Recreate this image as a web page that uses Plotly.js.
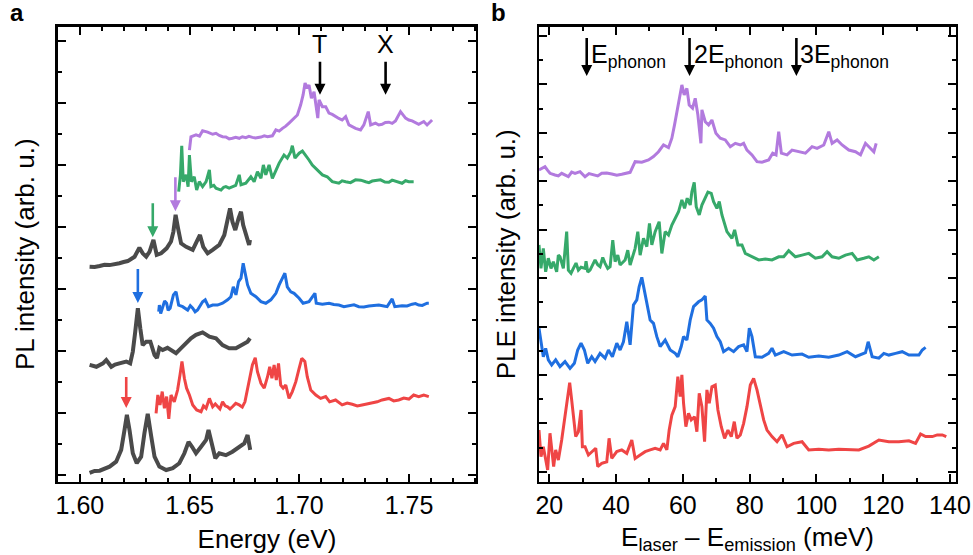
<!DOCTYPE html>
<html>
<head>
<meta charset="utf-8">
<script src="https://cdn.plot.ly/plotly-3.0.1.min.js"></script>
<style>html,body{margin:0;padding:0;background:#fff;}#plot{width:973px;height:555px;}</style>
</head>
<body>
<div id="plot"></div>
<script>
// ---------- Panel a : PL spectra (energy in eV, intensity in arb. u., offset) ----------
const aPurpleE = [1.6499,1.6506,1.6529,1.6545,1.6559,1.6582,1.6605,1.6620,1.6635,1.6650,1.6665,1.6680,1.6695,1.6710,1.6726,1.6740,1.6756,1.6770,1.6786,1.6800,1.6825,1.6840,1.6855,1.6877,1.6893,1.6908,1.6923,1.6938,1.6953,1.6976,1.6991,1.7006,1.7017,1.7026,1.7036,1.7044,1.7055,1.7067,1.7077,1.7084,1.7090,1.7105,1.7120,1.7135,1.7150,1.7165,1.7180,1.7195,1.7211,1.7226,1.7241,1.7256,1.7279,1.7294,1.7314,1.7325,1.7347,1.7362,1.7377,1.7392,1.7408,1.7423,1.7438,1.7461,1.7484,1.7499,1.7514,1.7529,1.7544,1.7567,1.7582,1.7605];
const aPurpleI = [10.47,10.90,10.96,10.92,11.09,11.05,10.98,11.01,10.94,10.90,10.89,10.83,10.85,10.88,10.85,10.90,10.87,10.91,10.88,10.86,10.89,10.93,10.90,10.93,11.12,11.08,11.17,11.24,11.34,11.50,11.60,11.93,12.25,12.63,12.46,12.57,12.14,12.35,11.93,11.50,12.09,11.87,11.87,11.66,11.62,11.55,11.49,11.44,11.55,11.28,11.22,11.17,11.12,11.28,11.71,11.28,11.34,11.28,11.30,11.36,11.37,11.33,11.41,11.71,11.50,11.44,11.41,11.36,11.30,11.39,11.28,11.44];

const aGreenE = [1.6450,1.6458,1.6464,1.6471,1.6484,1.6493,1.6499,1.6508,1.6521,1.6532,1.6544,1.6559,1.6575,1.6590,1.6597,1.6610,1.6620,1.6632,1.6643,1.6655,1.6665,1.6680,1.6695,1.6710,1.6726,1.6734,1.6756,1.6779,1.6794,1.6809,1.6825,1.6836,1.6847,1.6862,1.6877,1.6893,1.6908,1.6930,1.6945,1.6961,1.6968,1.6980,1.6999,1.7014,1.7029,1.7044,1.7059,1.7082,1.7105,1.7127,1.7150,1.7180,1.7195,1.7211,1.7233,1.7256,1.7280,1.7302,1.7317,1.7332,1.7350,1.7370,1.7390,1.7408,1.7423,1.7438,1.7453,1.7468,1.7484,1.7499,1.7521];
const aGreenI = [9.13,9.67,10.61,9.45,9.67,9.29,10.31,9.45,9.61,9.18,9.45,9.29,9.45,9.83,9.29,9.33,9.24,9.22,9.18,9.27,9.29,9.24,9.29,9.33,9.67,9.35,9.40,9.61,9.45,9.77,9.56,9.99,9.67,9.99,9.56,9.83,10.05,10.31,10.21,10.42,10.61,10.21,10.37,10.44,10.31,10.15,9.99,9.83,9.67,9.61,9.45,9.40,9.48,9.45,9.42,9.51,9.50,9.45,9.42,9.47,9.49,9.51,9.44,9.43,9.50,9.47,9.43,9.40,9.48,9.45,9.45];

const aGrayTopE = [1.6044,1.6067,1.6090,1.6112,1.6135,1.6158,1.6180,1.6199,1.6218,1.6249,1.6271,1.6286,1.6302,1.6317,1.6335,1.6350,1.6370,1.6395,1.6415,1.6426,1.6436,1.6447,1.6461,1.6484,1.6514,1.6532,1.6547,1.6562,1.6582,1.6605,1.6635,1.6658,1.6673,1.6684,1.6695,1.6708,1.6723,1.6734,1.6744,1.6759,1.6771,1.6775];
const aGrayTopI = [6.71,6.70,6.73,6.77,6.76,6.78,6.82,6.86,6.89,7.03,7.32,7.14,7.03,7.19,7.57,7.09,7.14,7.30,7.52,7.84,8.38,7.95,7.46,7.35,7.25,7.52,7.73,7.35,7.14,7.25,7.41,7.73,8.22,8.59,8.16,7.89,8.27,8.48,8.05,7.73,7.41,7.57];

const aBlueE = [1.6359,1.6362,1.6368,1.6377,1.6386,1.6395,1.6402,1.6411,1.6420,1.6426,1.6438,1.6450,1.6468,1.6491,1.6503,1.6514,1.6525,1.6536,1.6559,1.6571,1.6586,1.6605,1.6627,1.6650,1.6673,1.6688,1.6699,1.6711,1.6723,1.6734,1.6744,1.6753,1.6764,1.6779,1.6802,1.6825,1.6847,1.6870,1.6893,1.6908,1.6923,1.6934,1.6945,1.6961,1.6976,1.6999,1.7017,1.7044,1.7071,1.7077,1.7105,1.7135,1.7157,1.7180,1.7203,1.7226,1.7249,1.7271,1.7294,1.7317,1.7340,1.7362,1.7385,1.7400,1.7423,1.7435,1.7468,1.7491,1.7514,1.7529,1.7544,1.7560,1.7582,1.7590];
const aBlueI = [5.26,5.47,5.20,5.37,5.60,5.53,5.30,5.37,5.62,5.80,5.90,5.47,5.42,5.31,5.45,5.37,5.25,5.31,5.58,5.64,5.42,5.47,5.47,5.53,5.64,5.74,6.06,5.80,6.23,6.34,6.82,6.55,6.12,5.85,5.74,5.58,5.53,5.64,5.85,6.12,6.34,6.50,6.06,5.90,5.85,5.69,5.53,5.58,5.85,5.53,5.50,5.53,5.49,5.47,5.42,5.45,5.48,5.42,5.41,5.44,5.46,5.47,5.44,5.42,5.67,5.42,5.45,5.44,5.50,5.52,5.47,5.46,5.53,5.53];

const aGrayMidE = [1.6044,1.6075,1.6105,1.6120,1.6143,1.6160,1.6180,1.6195,1.6211,1.6229,1.6241,1.6252,1.6264,1.6275,1.6286,1.6302,1.6321,1.6340,1.6351,1.6362,1.6377,1.6399,1.6417,1.6438,1.6461,1.6484,1.6506,1.6529,1.6559,1.6590,1.6620,1.6650,1.6680,1.6711,1.6741,1.6764,1.6775];
const aGrayMidI = [3.54,3.48,3.59,3.70,3.48,3.55,3.59,3.63,3.65,3.59,3.97,4.61,5.37,4.72,4.18,4.29,4.29,3.86,3.76,4.09,4.02,4.09,4.02,3.92,4.08,4.24,4.40,4.51,4.59,4.45,4.40,4.18,4.08,4.08,4.18,4.29,4.40];

const aRedE = [1.6347,1.6355,1.6365,1.6375,1.6385,1.6395,1.6405,1.6415,1.6430,1.6445,1.6456,1.6465,1.6476,1.6486,1.6499,1.6514,1.6532,1.6552,1.6563,1.6575,1.6590,1.6605,1.6617,1.6627,1.6638,1.6650,1.6662,1.6673,1.6684,1.6695,1.6710,1.6726,1.6740,1.6752,1.6764,1.6775,1.6786,1.6799,1.6809,1.6825,1.6840,1.6855,1.6865,1.6875,1.6885,1.6895,1.6905,1.6915,1.6926,1.6938,1.6953,1.6968,1.6984,1.6999,1.7011,1.7025,1.7036,1.7052,1.7075,1.7097,1.7120,1.7138,1.7165,1.7195,1.7218,1.7241,1.7264,1.7286,1.7310,1.7332,1.7355,1.7377,1.7408,1.7430,1.7453,1.7476,1.7499,1.7521,1.7544,1.7567,1.7590];
const aRedI = [1.98,2.57,2.25,2.68,2.14,2.52,1.80,2.57,2.35,2.73,3.22,3.65,3.11,2.79,2.57,2.25,2.09,2.03,2.22,2.14,2.46,2.19,2.28,2.19,2.12,2.35,2.22,2.19,2.12,2.19,2.30,2.25,2.18,2.35,2.79,3.11,3.54,3.77,3.32,2.95,2.79,3.16,3.48,3.11,3.54,3.05,3.59,2.89,2.79,2.89,2.46,2.68,3.00,3.43,3.75,3.65,3.16,2.73,2.57,2.46,2.52,2.35,2.41,2.25,2.31,2.27,2.22,2.25,2.28,2.30,2.35,2.41,2.46,2.38,2.41,2.47,2.44,2.57,2.52,2.57,2.52];

const aGrayBotE = [1.6044,1.6067,1.6090,1.6112,1.6135,1.6165,1.6188,1.6203,1.6214,1.6226,1.6241,1.6259,1.6279,1.6294,1.6309,1.6325,1.6340,1.6362,1.6393,1.6423,1.6453,1.6476,1.6495,1.6511,1.6529,1.6552,1.6575,1.6586,1.6602,1.6617,1.6635,1.6665,1.6695,1.6726,1.6749,1.6764,1.6776];
const aGrayBotI = [0.06,0.12,0.13,0.18,0.26,0.42,0.80,1.44,1.93,1.44,0.69,0.37,0.58,1.34,1.96,1.23,0.58,0.26,0.15,0.21,0.37,0.69,1.06,0.90,0.69,0.90,1.12,1.44,1.01,0.53,0.69,0.63,0.74,0.90,1.01,1.28,0.80];

// Axis ticks of panel a
const aTickVals = [1.60, 1.65, 1.70, 1.75];
const aTickText = ['1.60', '1.65', '1.70', '1.75'];

// Marked features in panel a
const aMarkE = [1.6211, 1.6264, 1.6332, 1.6435];          // red, blue, green, purple arrows
const aMarkI = [2.15, 5.54, 7.66, 8.50];
const aLabelE = [1.7094, 1.7393];                          // T, X
const aLabelText = ['T', 'X'];
const aLabelTipI = [12.25, 12.25];

// ---------- Panel b : PLE spectra (E_laser - E_emission in meV) ----------
const bPurpleX = [16.9,18.7,19.5,20.2,21.7,22.7,23.7,25.7,26.7,27.7,29.2,30.7,31.9,33.2,34.5,35.7,37.2,38.7,40.2,41.7,43.0,44.2,45.7,47.7,49.7,51.2,52.7,54.2,55.7,56.7,57.5,58.5,59.7,60.4,61.2,61.9,62.9,63.7,64.5,65.4,65.7,66.7,67.7,68.7,69.9,71.2,72.7,74.2,75.7,77.2,78.2,79.2,80.7,82.2,83.7,85.7,86.9,87.9,88.7,89.5,91.2,92.7,94.7,96.7,98.7,100.2,102.2,103.7,104.7,106.2,107.7,109.7,111.7,113.2,114.7,116.2,117.2,117.9];
const bPurpleI = [12.47,12.60,12.45,12.33,12.26,12.22,12.33,12.19,12.38,12.33,12.40,12.19,12.32,12.26,12.22,12.33,12.34,12.30,12.25,12.29,12.33,12.37,12.81,12.79,12.88,13.02,13.22,13.50,13.39,13.78,14.33,15.02,15.98,15.57,15.84,15.15,15.02,15.43,14.74,13.57,14.95,14.46,14.33,14.53,13.98,13.78,13.71,13.43,13.57,13.50,13.57,13.29,13.09,12.81,12.79,12.88,13.16,13.09,14.05,13.16,13.09,13.29,13.22,13.16,13.43,13.36,13.50,14.05,13.57,13.71,13.50,13.29,13.22,13.09,13.57,13.36,13.22,13.57];

const bGreenX = [16.9,17.5,18.2,18.9,19.7,20.5,21.2,22.2,22.7,23.2,24.2,25.2,25.7,26.5,27.2,28.0,28.7,29.5,30.7,31.0,31.5,32.2,33.7,34.5,35.2,36.0,36.7,37.5,38.2,39.0,39.7,40.5,41.2,42.7,43.5,44.2,45.7,46.5,47.2,48.2,49.2,50.0,50.7,51.7,52.9,53.7,54.7,55.7,56.7,57.7,58.7,59.7,60.5,61.3,62.2,62.7,63.4,64.0,64.9,65.7,66.7,67.5,68.5,69.2,70.2,70.9,71.7,73.2,74.7,75.5,76.5,77.7,78.7,80.7,82.7,84.7,86.7,88.7,90.2,91.7,93.7,95.7,97.7,99.7,101.7,103.2,104.7,106.7,108.7,110.7,112.2,114.2,115.7,117.2,118.7];
const bGreenI = [9.37,8.40,9.23,8.26,8.82,8.40,8.68,8.26,8.95,8.88,8.40,9.92,8.33,8.20,8.40,8.62,8.33,8.45,8.40,8.70,8.25,8.33,8.75,8.55,8.47,8.85,8.61,8.40,8.47,9.57,8.68,8.95,8.54,8.75,9.15,8.54,9.23,9.92,8.95,9.64,9.30,10.26,9.37,9.92,10.33,9.02,9.92,9.78,10.19,10.47,10.74,11.23,10.88,11.30,11.02,11.57,11.96,10.95,10.61,11.02,11.30,11.55,11.50,11.16,10.88,11.16,10.61,9.92,9.64,9.99,9.37,9.37,9.02,8.88,8.75,8.79,8.75,8.88,8.88,9.13,8.88,8.95,9.02,8.82,8.88,9.09,8.88,8.82,8.95,9.02,8.75,8.82,8.88,8.75,8.88];

const bBlueX = [16.9,17.5,18.2,18.9,19.7,20.7,21.9,23.2,24.7,26.2,27.5,28.5,29.5,30.5,31.5,32.7,33.7,35.2,36.7,37.7,38.9,40.2,41.2,42.2,43.2,44.2,45.2,46.2,46.9,47.7,48.5,49.2,50.2,51.2,52.2,53.2,54.7,56.2,57.7,58.5,59.5,60.2,61.2,62.2,63.2,64.7,65.7,66.7,67.2,68.2,69.2,70.2,71.2,72.2,73.7,75.2,76.7,78.2,79.2,79.9,80.7,81.7,83.7,85.7,86.7,87.7,90.2,92.7,95.7,97.7,100.7,103.7,106.7,109.2,111.7,114.7,115.5,116.7,118.7,120.2,121.7,123.7,125.7,127.7,130.7,131.7,132.7];
const bBlueI = [5.93,5.44,4.75,5.10,4.62,4.41,4.62,4.34,4.55,4.27,4.48,5.03,5.31,5.03,4.48,4.75,4.55,4.89,4.69,5.03,4.75,5.31,5.03,5.37,6.20,5.24,6.89,7.10,7.64,8.03,7.51,6.96,6.27,6.13,5.58,5.17,5.44,5.03,4.89,4.75,5.17,5.58,5.44,6.27,6.82,7.02,7.10,7.26,6.27,6.13,5.93,5.58,5.37,4.96,5.10,4.96,5.17,5.24,4.96,5.93,5.58,4.75,4.73,4.89,5.10,4.82,4.96,4.82,4.86,4.73,4.78,4.73,4.82,4.96,4.75,4.92,5.37,4.75,4.69,4.89,4.82,4.89,4.96,4.82,4.82,5.03,5.14];

const bRedX = [16.9,17.5,18.2,18.9,19.5,20.2,20.7,21.3,21.9,22.7,23.7,24.7,25.5,26.1,26.7,27.2,27.9,28.7,29.5,29.9,30.7,31.7,32.9,33.9,34.5,35.7,37.2,37.9,38.7,40.2,41.7,43.2,44.7,45.7,47.2,48.7,50.2,51.7,53.2,54.2,55.2,55.9,56.7,57.7,58.5,59.2,59.7,60.2,60.9,61.7,62.5,63.5,64.2,64.9,65.7,66.5,67.2,67.9,68.7,69.7,70.5,71.5,72.5,73.5,74.5,75.4,76.2,77.2,78.2,79.2,80.2,81.2,82.2,83.2,84.2,85.2,86.7,88.2,89.7,91.2,93.2,95.7,97.7,100.7,103.7,106.7,109.7,112.7,115.7,118.7,121.7,124.7,127.7,129.7,131.2,132.7,134.7,136.2,137.7,138.9];
const bRedI = [1.72,0.62,1.03,0.55,0.07,1.59,0.90,0.21,0.90,0.48,1.31,2.27,3.10,3.68,2.96,2.27,1.45,1.65,2.55,1.03,1.03,0.69,0.83,0.97,0.21,0.35,0.41,1.38,0.55,0.83,0.90,0.76,1.31,0.55,0.69,0.83,0.90,0.97,0.90,1.17,0.90,1.72,2.34,2.69,3.93,3.10,4.00,2.83,1.86,2.41,2.14,2.27,1.65,3.24,2.69,1.24,3.38,2.83,3.51,3.58,2.55,1.86,1.38,1.72,1.45,2.07,1.38,1.52,2.00,2.69,3.58,3.86,3.38,2.69,2.14,1.72,1.45,1.24,1.52,1.03,1.17,1.24,0.90,0.93,0.90,0.93,0.90,0.90,1.06,1.31,1.24,1.24,1.28,1.17,1.56,1.45,1.45,1.52,1.52,1.45];

// Phonon replica markers in panel b
const bPhononX = [31.2, 62.0, 94.0];
const bPhononText = ['E<sub>phonon</sub>', '2E<sub>phonon</sub>', '3E<sub>phonon</sub>'];
const bPhononTipI = [16.35, 16.35, 16.35];

// ---------- styles ----------
const C = {purple:'#b27ade', green:'#36a96a', blue:'#1f6fe0', red:'#ef4545', gray:'#4a4a4a'};

function line(x, y, color, w, xa, ya) {
  return {x:x, y:y, type:'scatter', mode:'lines', line:{color:color, width:w},
          xaxis:xa, yaxis:ya, hoverinfo:'skip'};
}

const traces = [
  line(aPurpleE, aPurpleI, C.purple, 3, 'x', 'y'),
  line(aGreenE, aGreenI, C.green, 3, 'x', 'y'),
  line(aGrayTopE, aGrayTopI, C.gray, 4, 'x', 'y'),
  line(aBlueE, aBlueI, C.blue, 3, 'x', 'y'),
  line(aGrayMidE, aGrayMidI, C.gray, 4, 'x', 'y'),
  line(aRedE, aRedI, C.red, 3, 'x', 'y'),
  line(aGrayBotE, aGrayBotI, C.gray, 4, 'x', 'y'),
  line(bPurpleX, bPurpleI, C.purple, 3, 'x2', 'y2'),
  line(bGreenX, bGreenI, C.green, 3, 'x2', 'y2'),
  line(bBlueX, bBlueI, C.blue, 3, 'x2', 'y2'),
  line(bRedX, bRedI, C.red, 3, 'x2', 'y2')
];

function frame(extra) {
  return Object.assign({
    showline:true, linecolor:'black', linewidth:2.5, mirror:'allticks',
    ticks:'inside', ticklen:8, tickwidth:2, tickcolor:'black',
    showgrid:false, zeroline:false, fixedrange:true,
    tickfont:{size:25, color:'black'}
  }, extra);
}

// arrow drawn as a filled path, sized in pixels, tip anchored at a data point
function arrowShape(xref, yref, x, y, len, color) {
  return {type:'path', xref:xref, yref:yref, xsizemode:'pixel', ysizemode:'pixel',
    xanchor:x, yanchor:y, fillcolor:color, line:{width:0},
    path:'M0,0 L5.5,11 L1.3,11 L1.3,' + len + ' L-1.3,' + len + ' L-1.3,11 L-5.5,11 Z'};
}

const shapes = [];
const annotations = [];
annotations.push({xref:'paper', yref:'paper', x:0.008, y:0.978, xanchor:'left', yanchor:'middle',
  text:'<b>a</b>', showarrow:false, font:{size:24, color:'black'}});
annotations.push({xref:'paper', yref:'paper', x:0.503, y:0.978, xanchor:'left', yanchor:'middle',
  text:'<b>b</b>', showarrow:false, font:{size:24, color:'black'}});

const aMarkColors = [C.red, C.blue, C.green, C.purple];
const aMarkLen = [31, 34, 34, 34];
aMarkE.forEach((e, i) => shapes.push(arrowShape('x', 'y', e, aMarkI[i], aMarkLen[i], aMarkColors[i])));
aLabelE.forEach((e, i) => {
  shapes.push(arrowShape('x', 'y', e, aLabelTipI[i], 33, 'black'));
  annotations.push({xref:'x', yref:'paper', x:e, y:0.9207, text:aLabelText[i], showarrow:false,
    xanchor:'center', yanchor:'middle', font:{size:25, color:'black'}});
});
bPhononX.forEach((e, i) => {
  shapes.push(arrowShape('x2', 'y2', e, bPhononTipI[i], 38, 'black'));
  annotations.push({xref:'x2', yref:'paper', x:e, xshift:2, y:0.899, text:bPhononText[i], showarrow:false,
    xanchor:'left', yanchor:'middle', font:{size:25, color:'black'}});
});

const layout = {
  width:973, height:555,
  margin:{l:0, r:0, t:0, b:0},
  paper_bgcolor:'white', plot_bgcolor:'white',
  showlegend:false,
  font:{family:'"Liberation Sans", Arial, sans-serif', size:25, color:'black'},
  xaxis: frame({domain:[0.0596, 0.4892], range:[1.59, 1.7805], tickmode:'array',
    tickvals:aTickVals, ticktext:aTickText,
    minor:{ticks:'inside', ticklen:4, tickwidth:2, tickcolor:'black', dtick:0.01, tick0:1.6},
    title:{text:'Energy (eV)', font:{size:26}, standoff:12}, anchor:'y'}),
  yaxis: frame({domain:[0.1324, 0.9514], range:[-0.22, 14.44], tick0:0, dtick:2, showticklabels:false,
    minor:{ticks:'inside', ticklen:4, tickwidth:2, tickcolor:'black', dtick:1, tick0:0},
    title:{text:'PL intensity (arb. u.)', font:{size:26}, standoff:14}, anchor:'x'}),
  xaxis2: frame({domain:[0.5540, 0.9825], range:[16.92, 141.8], tick0:0, dtick:20,
    minor:{ticks:'inside', ticklen:4, tickwidth:2, tickcolor:'black', dtick:10, tick0:0},
    title:{text:'E<sub>laser</sub> – E<sub>emission</sub> (meV)', font:{size:26}, standoff:12}, anchor:'y2'}),
  yaxis2: frame({domain:[0.1324, 0.9514], range:[-0.405, 18.376], tick0:0, dtick:2, showticklabels:false,
    minor:{ticks:'inside', ticklen:4, tickwidth:2, tickcolor:'black', dtick:1, tick0:0},
    title:{text:'PLE intensity (arb. u.)', font:{size:26}, standoff:14}, anchor:'x2'}),
  shapes: shapes,
  annotations: annotations
};

Plotly.newPlot('plot', traces, layout, {displayModeBar:false, staticPlot:true});
</script>
</body>
</html>
